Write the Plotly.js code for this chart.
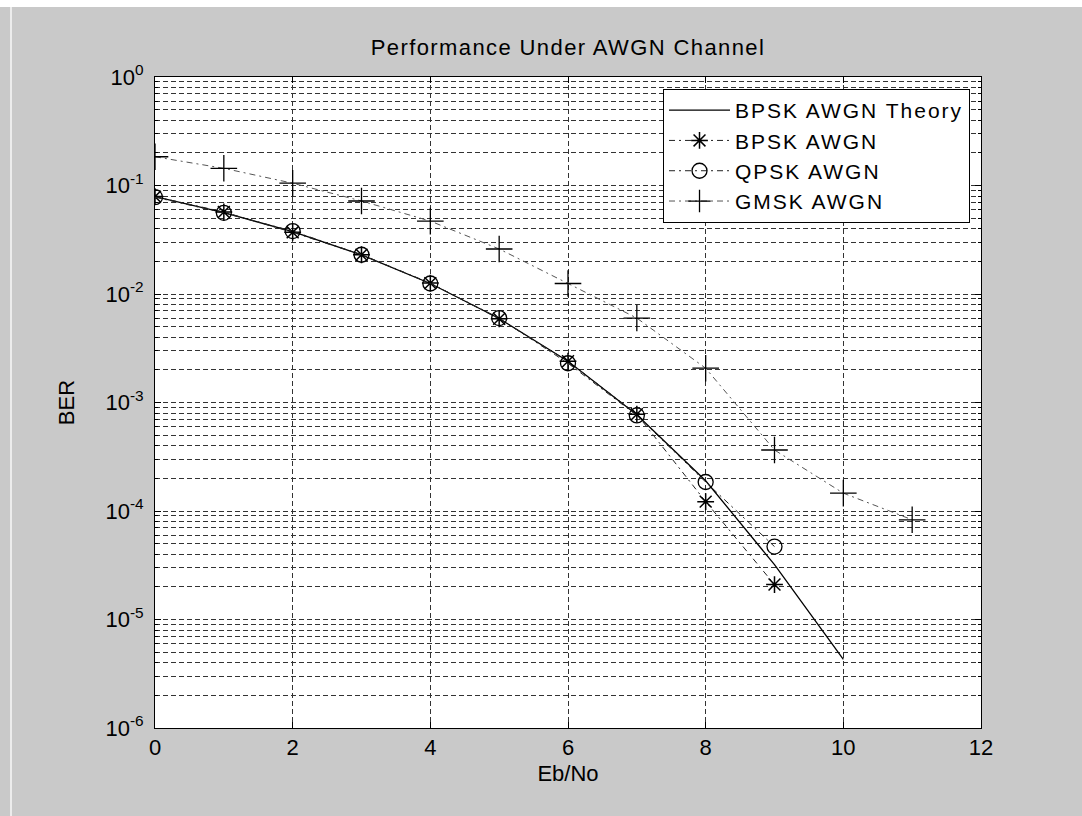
<!DOCTYPE html>
<html>
<head>
<meta charset="utf-8">
<script src="https://cdn.plot.ly/plotly-3.0.1.min.js"></script>
<style>
  html, body { margin: 0; padding: 0; background: #c9c9c9; }
  #wrap { position: relative; width: 1082px; height: 816px; overflow: hidden; }
  #chart { position: absolute; left: 0; top: 0; width: 1082px; height: 816px; }
  #topstrip { position: absolute; left: 0; top: 0; width: 1082px; height: 7px; background: #ffffff; }
  #leftline { position: absolute; left: 10px; top: 7px; width: 2px; height: 809px; background: #ececec; }
  .legendtext { letter-spacing: 2px; }
  .gtitle { letter-spacing: 1.4px; }
</style>
</head>
<body>
<div id="wrap">
  <div id="chart"></div>
  <div id="topstrip"></div>
  <div id="leftline"></div>
</div>
<script>
// ---- data ----
const ebnoTheory = [0, 1, 2, 3, 4, 5, 6, 7, 8, 9, 10];
const berTheory  = [0.079, 0.0563, 0.0375, 0.0229, 0.0125, 0.00595, 0.0024, 0.00077, 0.00019, 0.000032, 0.0000043];

const ebnoBpsk = [0, 1, 2, 3, 4, 5, 6, 7, 8, 9];
const berBpsk  = [0.079, 0.057, 0.037, 0.023, 0.0126, 0.0059, 0.0024, 0.00078, 0.000122, 0.000021];

const ebnoQpsk = [0, 1, 2, 3, 4, 5, 6, 7, 8, 9];
const berQpsk  = [0.078, 0.056, 0.038, 0.023, 0.0125, 0.006, 0.0023, 0.00076, 0.000185, 0.000047];

const ebnoGmsk = [0, 1, 2, 3, 4, 5, 6, 7, 8, 9, 10, 11];
const berGmsk  = [0.184, 0.144, 0.105, 0.072, 0.047, 0.026, 0.0125, 0.006, 0.00207, 0.000365, 0.000146, 0.000083];

const seriesNames = ["BPSK AWGN Theory", "BPSK AWGN", "QPSK AWGN", "GMSK AWGN"];

const xTickVals = [0, 2, 4, 6, 8, 10, 12];
const yTickVals = [1, 0.1, 0.01, 0.001, 0.0001, 0.00001, 0.000001];
const yTickText = ["10<sup>0</sup>", "10<sup>-1</sup>", "10<sup>-2</sup>", "10<sup>-3</sup>",
                   "10<sup>-4</sup>", "10<sup>-5</sup>", "10<sup>-6</sup>"];

// minor log ticks (2..9 in each decade)
const yMinorVals = [];
for (let d = -6; d <= -1; d++) {
  for (let m = 2; m <= 9; m++) yMinorVals.push(m * Math.pow(10, d));
}

const FONT = "Liberation Sans, Arial, sans-serif";
const gridCol = "#333333";
const dashDot = "6px,4px,2px,4px";

const traces = [
  {
    x: ebnoTheory, y: berTheory, name: seriesNames[0], mode: "lines",
    line: { color: "#000000", width: 1.3 }
  },
  {
    x: ebnoBpsk, y: berBpsk, name: seriesNames[1], mode: "lines+markers",
    line: { color: "#222222", width: 1, dash: dashDot },
    marker: { symbol: "asterisk-open", size: 14, color: "#000000", line: { color: "#000000", width: 1.5 } }
  },
  {
    x: ebnoQpsk, y: berQpsk, name: seriesNames[2], mode: "lines+markers",
    line: { color: "#222222", width: 1, dash: dashDot },
    marker: { symbol: "circle-open", size: 15, color: "#000000", line: { color: "#000000", width: 1.3 } }
  },
  {
    x: ebnoGmsk, y: berGmsk, name: seriesNames[3], mode: "lines+markers",
    line: { color: "#555555", width: 1, dash: dashDot },
    marker: { symbol: "cross-thin-open", size: 19, color: "#000000", line: { color: "#000000", width: 1.3 } }
  }
];

const layout = {
  width: 1082, height: 816,
  paper_bgcolor: "#c9c9c9",
  plot_bgcolor: "#ffffff",
  margin: { l: 155, r: 101, t: 77, b: 88 },
  font: { family: FONT, size: 22, color: "#000000" },
  title: {
    text: "Performance Under AWGN Channel",
    font: { family: FONT, size: 22, color: "#000000" },
    x: 0.5, xref: "paper", xanchor: "center",
    y: 1, yref: "paper", yanchor: "bottom", pad: { b: 22 }
  },
  showlegend: true,
  legend: {
    x: 0.9867, y: 0.9816, xanchor: "right", yanchor: "top",
    bgcolor: "#ffffff", bordercolor: "#000000", borderwidth: 1,
    font: { family: FONT, size: 21, color: "#000000" },
    tracegroupgap: 0, itemwidth: 61
  },
  xaxis: {
    type: "linear", range: [0, 12],
    tickmode: "array", tickvals: xTickVals,
    ticks: "inside", ticklen: 6, tickcolor: "#000000",
    showline: true, linecolor: "#000000", linewidth: 1, mirror: "ticks",
    showgrid: true, gridcolor: gridCol, gridwidth: 1, griddash: "5px,3px",
    zeroline: false,
    tickfont: { family: FONT, size: 22 },
    title: { text: "Eb/No", font: { family: FONT, size: 22 }, standoff: 6 }
  },
  yaxis: {
    type: "log", range: [-6, 0],
    tickmode: "array", tickvals: yTickVals, ticktext: yTickText,
    ticks: "inside", ticklen: 6, tickcolor: "#000000",
    showline: true, linecolor: "#000000", linewidth: 1, mirror: "ticks",
    showgrid: true, gridcolor: gridCol, gridwidth: 1, griddash: "5px,3px",
    zeroline: false,
    tickfont: { family: FONT, size: 22 },
    ticklabelstandoff: 6,
    minor: {
      tickmode: "array", tickvals: yMinorVals,
      ticks: "inside", ticklen: 3, tickcolor: "#000000",
      showgrid: true, gridcolor: gridCol, gridwidth: 1, griddash: "5px,3px"
    },
    title: { text: "BER", font: { family: FONT, size: 22 }, standoff: 24 }
  }
};

Plotly.newPlot("chart", traces, layout, { displayModeBar: false, staticPlot: true });
</script>
</body>
</html>
